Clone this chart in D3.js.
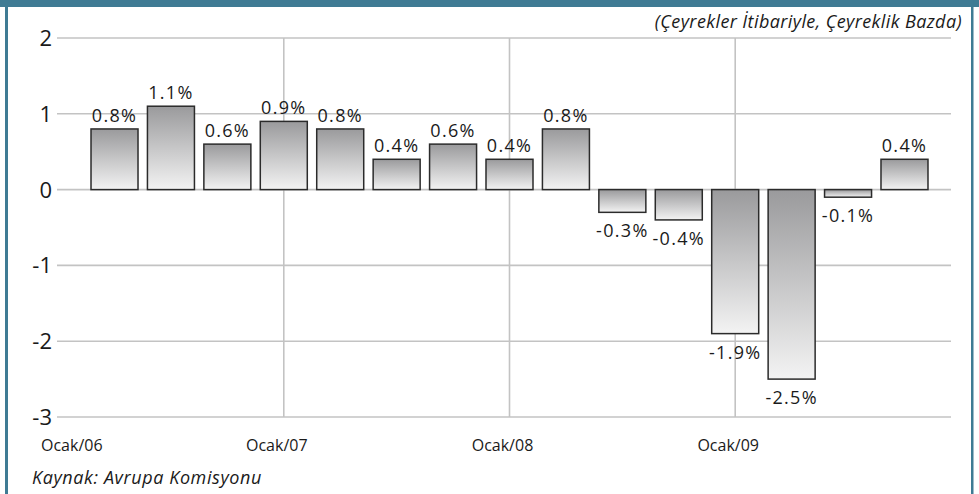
<!DOCTYPE html>
<html>
<head>
  <meta charset="UTF-8">
  <title>Ceyreklik Buyume</title>
  <script src="https://d3js.org/d3.v7.min.js"></script>
  <style>
    body { margin: 0; background: #fff; }
    .chart text { font-family: "Open Sans", "Noto Sans", sans-serif; fill: #1a1a1a; }
  </style>
</head>
<body>

<div class="chart"></div>

<script>

  // quarters Q1 2006 .. Q3 2009
  var quarters = ['2006Q1', '2006Q2', '2006Q3', '2006Q4',
                  '2007Q1', '2007Q2', '2007Q3', '2007Q4',
                  '2008Q1', '2008Q2', '2008Q3', '2008Q4',
                  '2009Q1', '2009Q2', '2009Q3'];
  var growth = [0.8, 1.1, 0.6, 0.9, 0.8, 0.4, 0.6, 0.4, 0.8, -0.3, -0.4, -1.9, -2.5, -0.1, 0.4];

  var yTicks = [2, 1, 0, -1, -2, -3];
  // vertical grid lines sit on these bars in the original
  var gridQuarters = ['2006Q4', '2007Q4', '2008Q4'];
  var yearLabels = ['Ocak/06', 'Ocak/07', 'Ocak/08', 'Ocak/09'];

  var subtitle = '(Çeyrekler İtibariyle, Çeyreklik Bazda)';
  var source = 'Kaynak: Avrupa Komisyonu';

  var W = 979, H = 494;
  var plot = { left: 57, right: 951, top: 38, bottom: 417 };

  var svg = d3.select('.chart')
    .append('svg')
      .attr('width', W)
      .attr('height', H);

  // frame: top band + side rules
  var frameColor = '#3f7b94';
  svg.append('rect').attr('x', 0).attr('y', 0).attr('width', W).attr('height', 7).attr('fill', frameColor);
  svg.append('rect').attr('x', 5).attr('y', 0).attr('width', 3).attr('height', H).attr('fill', frameColor);
  svg.append('rect').attr('x', 971).attr('y', 0).attr('width', 2.5).attr('height', H).attr('fill', frameColor);

  // gradient used by every bar (dark top -> light bottom)
  var grad = svg.append('defs').append('linearGradient')
    .attr('id', 'barFill')
    .attr('x1', 0).attr('y1', 0).attr('x2', 0).attr('y2', 1);
  grad.append('stop').attr('offset', '0%').attr('stop-color', '#9a9a9c');
  grad.append('stop').attr('offset', '100%').attr('stop-color', '#f3f3f3');

  var yScale = d3.scaleLinear()
    .domain([-3, 2])
    .range([plot.bottom, plot.top]);

  var xScale = d3.scaleBand()
    .domain(quarters)
    .range([86.3, 932.7])
    .paddingInner(0.167)
    .paddingOuter(0.0835);

  var center = d => xScale(d) + xScale.bandwidth() / 2;

  // horizontal grid
  svg.append('g')
    .selectAll('line')
    .data(yTicks)
    .enter()
    .append('line')
      .attr('x1', plot.left)
      .attr('x2', plot.right)
      .attr('y1', d => yScale(d))
      .attr('y2', d => yScale(d))
      .attr('stroke', '#c3c3c3')
      .attr('stroke-width', 1.6);

  // vertical grid
  svg.append('g')
    .selectAll('line')
    .data(gridQuarters)
    .enter()
    .append('line')
      .attr('x1', d => center(d))
      .attr('x2', d => center(d))
      .attr('y1', plot.top)
      .attr('y2', plot.bottom)
      .attr('stroke', '#c3c3c3')
      .attr('stroke-width', 1.6);

  // y labels
  svg.append('g')
    .selectAll('text')
    .data(yTicks)
    .enter()
    .append('text')
      .attr('x', 52)
      .attr('y', d => yScale(d) + 8)
      .attr('text-anchor', 'end')
      .style('font-size', '22px')
      .text(d => d);

  // x labels: first one hugs the left edge, the others sit under the grid lines
  svg.append('g')
    .selectAll('text')
    .data(yearLabels)
    .enter()
    .append('text')
      .attr('x', (d, i) => i === 0 ? plot.left - 16 : center(gridQuarters[i - 1]) - 7)
      .attr('y', 451)
      .attr('text-anchor', (d, i) => i === 0 ? 'start' : 'middle')
      .style('font-size', '16px')
      .text(d => d);

  // bars
  var bars = svg.append('g')
    .selectAll('.bar')
    .data(quarters)
    .enter()
    .append('g')
      .attr('class', 'bar');

  bars.append('rect')
    .attr('x', d => xScale(d))
    .attr('width', xScale.bandwidth())
    .attr('y', (d, i) => yScale(Math.max(0, growth[i])))
    .attr('height', (d, i) => Math.abs(yScale(growth[i]) - yScale(0)))
    .attr('fill', 'url(#barFill)')
    .attr('stroke', '#2b2b2b')
    .attr('stroke-width', 1.5);

  bars.append('text')
    .attr('x', d => center(d))
    .attr('y', (d, i) => growth[i] >= 0 ? yScale(growth[i]) - 7 : yScale(growth[i]) + 25)
    .attr('text-anchor', 'middle')
    .style('font-size', '18px')
    .style('letter-spacing', '1.3px')
    .text((d, i) => growth[i].toFixed(1) + '%');

  // subtitle & source
  svg.append('text')
    .attr('x', 962)
    .attr('y', 28)
    .attr('text-anchor', 'end')
    .style('font-size', '18px')
    .style('letter-spacing', '0.4px')
    .style('font-style', 'italic')
    .text(subtitle);

  svg.append('text')
    .attr('x', 32)
    .attr('y', 484)
    .style('font-size', '18px')
    .style('letter-spacing', '0.6px')
    .style('font-style', 'italic')
    .text(source);

</script>

</body>
</html>
